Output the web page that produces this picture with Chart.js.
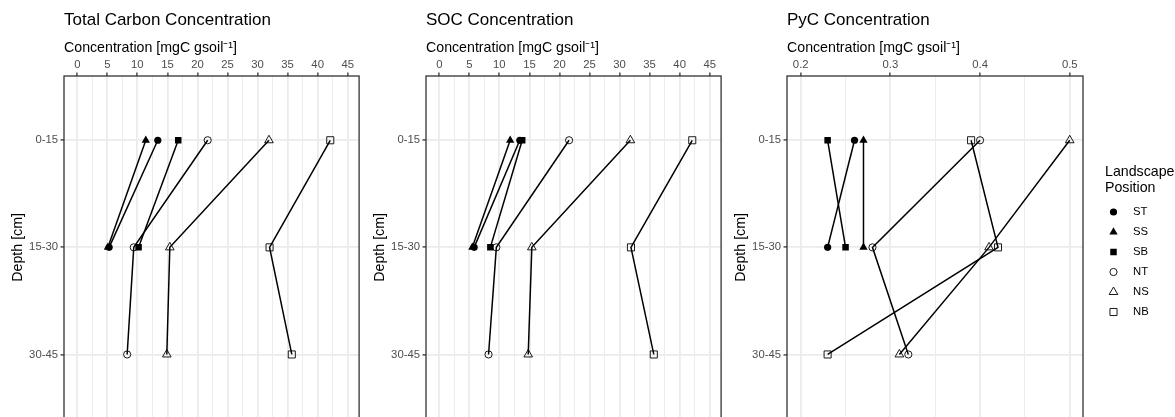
<!DOCTYPE html>
<html><head><meta charset="utf-8">
<script src="https://cdn.jsdelivr.net/npm/chart.js@4.4.1/dist/chart.umd.min.js"></script>
<style>
html,body{margin:0;padding:0;background:#fff;overflow:hidden;width:1175px;height:417px;}
canvas{position:absolute;top:0;}
</style></head><body>
<canvas id="c1" width="365" height="428" style="left:0px"></canvas>
<canvas id="c2" width="365" height="428" style="left:362px"></canvas>
<canvas id="c3" width="452" height="428" style="left:723px"></canvas>
<script>
// ---- data ----
const depthLabels = ['0-15', '15-30', '30-45'];
const positionLabels = ['ST', 'SS', 'SB', 'NT', 'NS', 'NB'];
const concTickLabels = [0, 5, 10, 15, 20, 25, 30, 35, 40, 45];
const pycTickLabels = [0.2, 0.3, 0.4, 0.5];

// Total carbon (mgC/g soil) by depth
const tcST = [13.4, 5.3, null];
const tcSS = [11.4, 5.1, null];
const tcSB = [16.8, 10.2, null];
const tcNT = [21.7, 9.4, 8.3];
const tcNS = [31.9, 15.4, 14.9];
const tcNB = [42.1, 32.0, 35.7];

// SOC
const socST = [13.4, 5.8, null];
const socSS = [11.8, 5.5, null];
const socSB = [13.8, 8.5, null];
const socNT = [21.6, 9.5, 8.2];
const socNS = [31.8, 15.4, 14.8];
const socNB = [42.1, 31.9, 35.7];

// PyC
const pycST = [0.26, 0.23, null];
const pycSS = [0.27, 0.27, null];
const pycSB = [0.23, 0.25, null];
const pycNT = [0.40, 0.28, 0.32];
const pycNS = [0.50, 0.41, 0.31];
const pycNB = [0.39, 0.42, 0.23];

// ---- styles ----
const FONT = "'Liberation Sans', Arial, sans-serif";
const markerStyle = {
  ST: {pointStyle: 'circle', radius: 3.6, filled: true},
  SS: {pointStyle: 'triangle', radius: 4.8, filled: true},
  SB: {pointStyle: 'rect', radius: 4.6, filled: true},
  NT: {pointStyle: 'circle', radius: 3.6, filled: false},
  NS: {pointStyle: 'triangle', radius: 5.0, filled: false},
  NB: {pointStyle: 'rect', radius: 5.0, filled: false}
};

function makeDatasets(seriesList) {
  return seriesList.map((vals, k) => {
    const name = positionLabels[k];
    const st = markerStyle[name];
    return {
      label: name,
      data: vals.map((v, i) => ({x: v, y: i})).filter(p => p.x !== null),
      showLine: true,
      borderColor: '#000',
      borderWidth: 1.5,
      pointStyle: st.pointStyle,
      pointRadius: st.radius,
      pointBackgroundColor: st.filled ? '#000' : 'rgba(0,0,0,0)',
      pointBorderColor: '#000',
      pointBorderWidth: st.filled ? 0.01 : 0.9,
      fill: false,
      tension: 0
    };
  });
}

function near(a, b) { return Math.abs(a - b) < 1e-9; }

const frame = {
  id: 'frame',
  afterDraw(chart, args, opts) {
    const {ctx, chartArea: a} = chart;
    ctx.save();
    ctx.strokeStyle = '#333333';
    ctx.lineWidth = 1.3;
    ctx.strokeRect(a.left, a.top, a.right - a.left, a.bottom - a.top);
    ctx.fillStyle = '#000';
    ctx.font = '17px ' + FONT;
    ctx.textBaseline = 'middle';
    ctx.textAlign = 'left';
    ctx.fillText(opts.title, a.left, 20);
    if (opts.legend) {
      const lx = a.right + 22;
      ctx.font = '14.2px ' + FONT;
      ctx.fillText('Landscape', lx, 172);
      ctx.fillText('Position', lx, 188);
      ctx.font = '11.3px ' + FONT;
      positionLabels.forEach((name, i) => {
        const y = 212 + i * 20;
        const st = markerStyle[name];
        ctx.fillStyle = st.filled ? '#000' : 'rgba(0,0,0,0)';
        ctx.strokeStyle = '#000';
        ctx.lineWidth = 0.9;
        Chart.helpers.drawPoint(ctx, {pointStyle: st.pointStyle, radius: st.radius, rotation: 0, borderWidth: st.filled ? 0 : 0.9}, lx + 8.5, y);
        ctx.fillStyle = '#000';
        ctx.fillText(name, lx + 28, y);
      });
    }
    ctx.restore();
  }
};

function makeChart(id, title, seriesList, xmin, xmax, gridVals, tickLabels, padRight, legend) {
  const isMajor = v => tickLabels.some(t => near(t, v));
  return new Chart(document.getElementById(id), {
    type: 'scatter',
    data: {datasets: makeDatasets(seriesList)},
    plugins: [frame],
    options: {
      responsive: false,
      animation: false,
      events: [],
      layout: {padding: {left: 0, right: padRight, top: 0, bottom: 0}},
      plugins: {
        legend: {display: false},
        tooltip: {enabled: false},
        frame: {title: title, legend: legend}
      },
      scales: {
        x: {
          type: 'linear',
          position: 'top',
          min: xmin,
          max: xmax,
          afterBuildTicks: s => { s.ticks = gridVals.map(v => ({value: v})); },
          afterFit: s => { s.height = 76; },
          ticks: {
            autoSkip: false,
            maxRotation: 0,
            padding: 1,
            color: '#4D4D4D',
            font: {family: FONT, size: 11.3},
            callback: v => {
              const t = tickLabels.find(t => near(t, v));
              return t === undefined ? '' : String(t);
            }
          },
          grid: {
            color: '#EBEBEB',
            lineWidth: c => (c.tick && isMajor(c.tick.value)) ? 1.8 : 0.9,
            tickColor: c => (c.tick && isMajor(c.tick.value)) ? '#333333' : 'rgba(0,0,0,0)',
            tickWidth: 1.3,
            tickLength: 3.5
          },
          border: {display: false},
          title: {
            display: true,
            text: 'Concentration [mgC gsoil\u207B\u00B9]',
            align: 'start',
            color: '#000',
            font: {family: FONT, size: 14.2},
            padding: {top: 39.5, bottom: 0}
          }
        },
        y: {
          type: 'linear',
          min: -0.6,
          max: 2.6,
          reverse: true,
          afterBuildTicks: s => { s.ticks = depthLabels.map((d, i) => ({value: i})); },
          afterFit: s => { s.width = 64; },
          ticks: {
            padding: 2.5,
            color: '#4D4D4D',
            font: {family: FONT, size: 11.3},
            callback: v => depthLabels[Math.round(v)]
          },
          grid: {
            color: '#EBEBEB',
            lineWidth: 1.8,
            tickColor: '#333333',
            tickWidth: 1.3,
            tickLength: 3.5
          },
          border: {display: false},
          title: {
            display: true,
            text: 'Depth [cm]',
            color: '#000',
            font: {family: FONT, size: 14.2},
            padding: {top: 9.3, bottom: 0}
          }
        }
      }
    }
  });
}

const concGrid = [];
for (let v = 0; v <= 45.0001; v += 2.5) concGrid.push(Math.round(v * 10) / 10);
const pycGrid = [0.2, 0.25, 0.3, 0.35, 0.4, 0.45, 0.5];

makeChart('c1', 'Total Carbon Concentration', [tcST, tcSS, tcSB, tcNT, tcNS, tcNB], -2.21, 46.9, concGrid, concTickLabels, 0, false);
makeChart('c2', 'SOC Concentration', [socST, socSS, socSB, socNT, socNS, socNB], -2.21, 46.9, concGrid, concTickLabels, 0, false);
makeChart('c3', 'PyC Concentration', [pycST, pycSS, pycSB, pycNT, pycNS, pycNB], 0.1847, 0.5148, pycGrid, pycTickLabels, 92, true);
</script>
</body></html>
